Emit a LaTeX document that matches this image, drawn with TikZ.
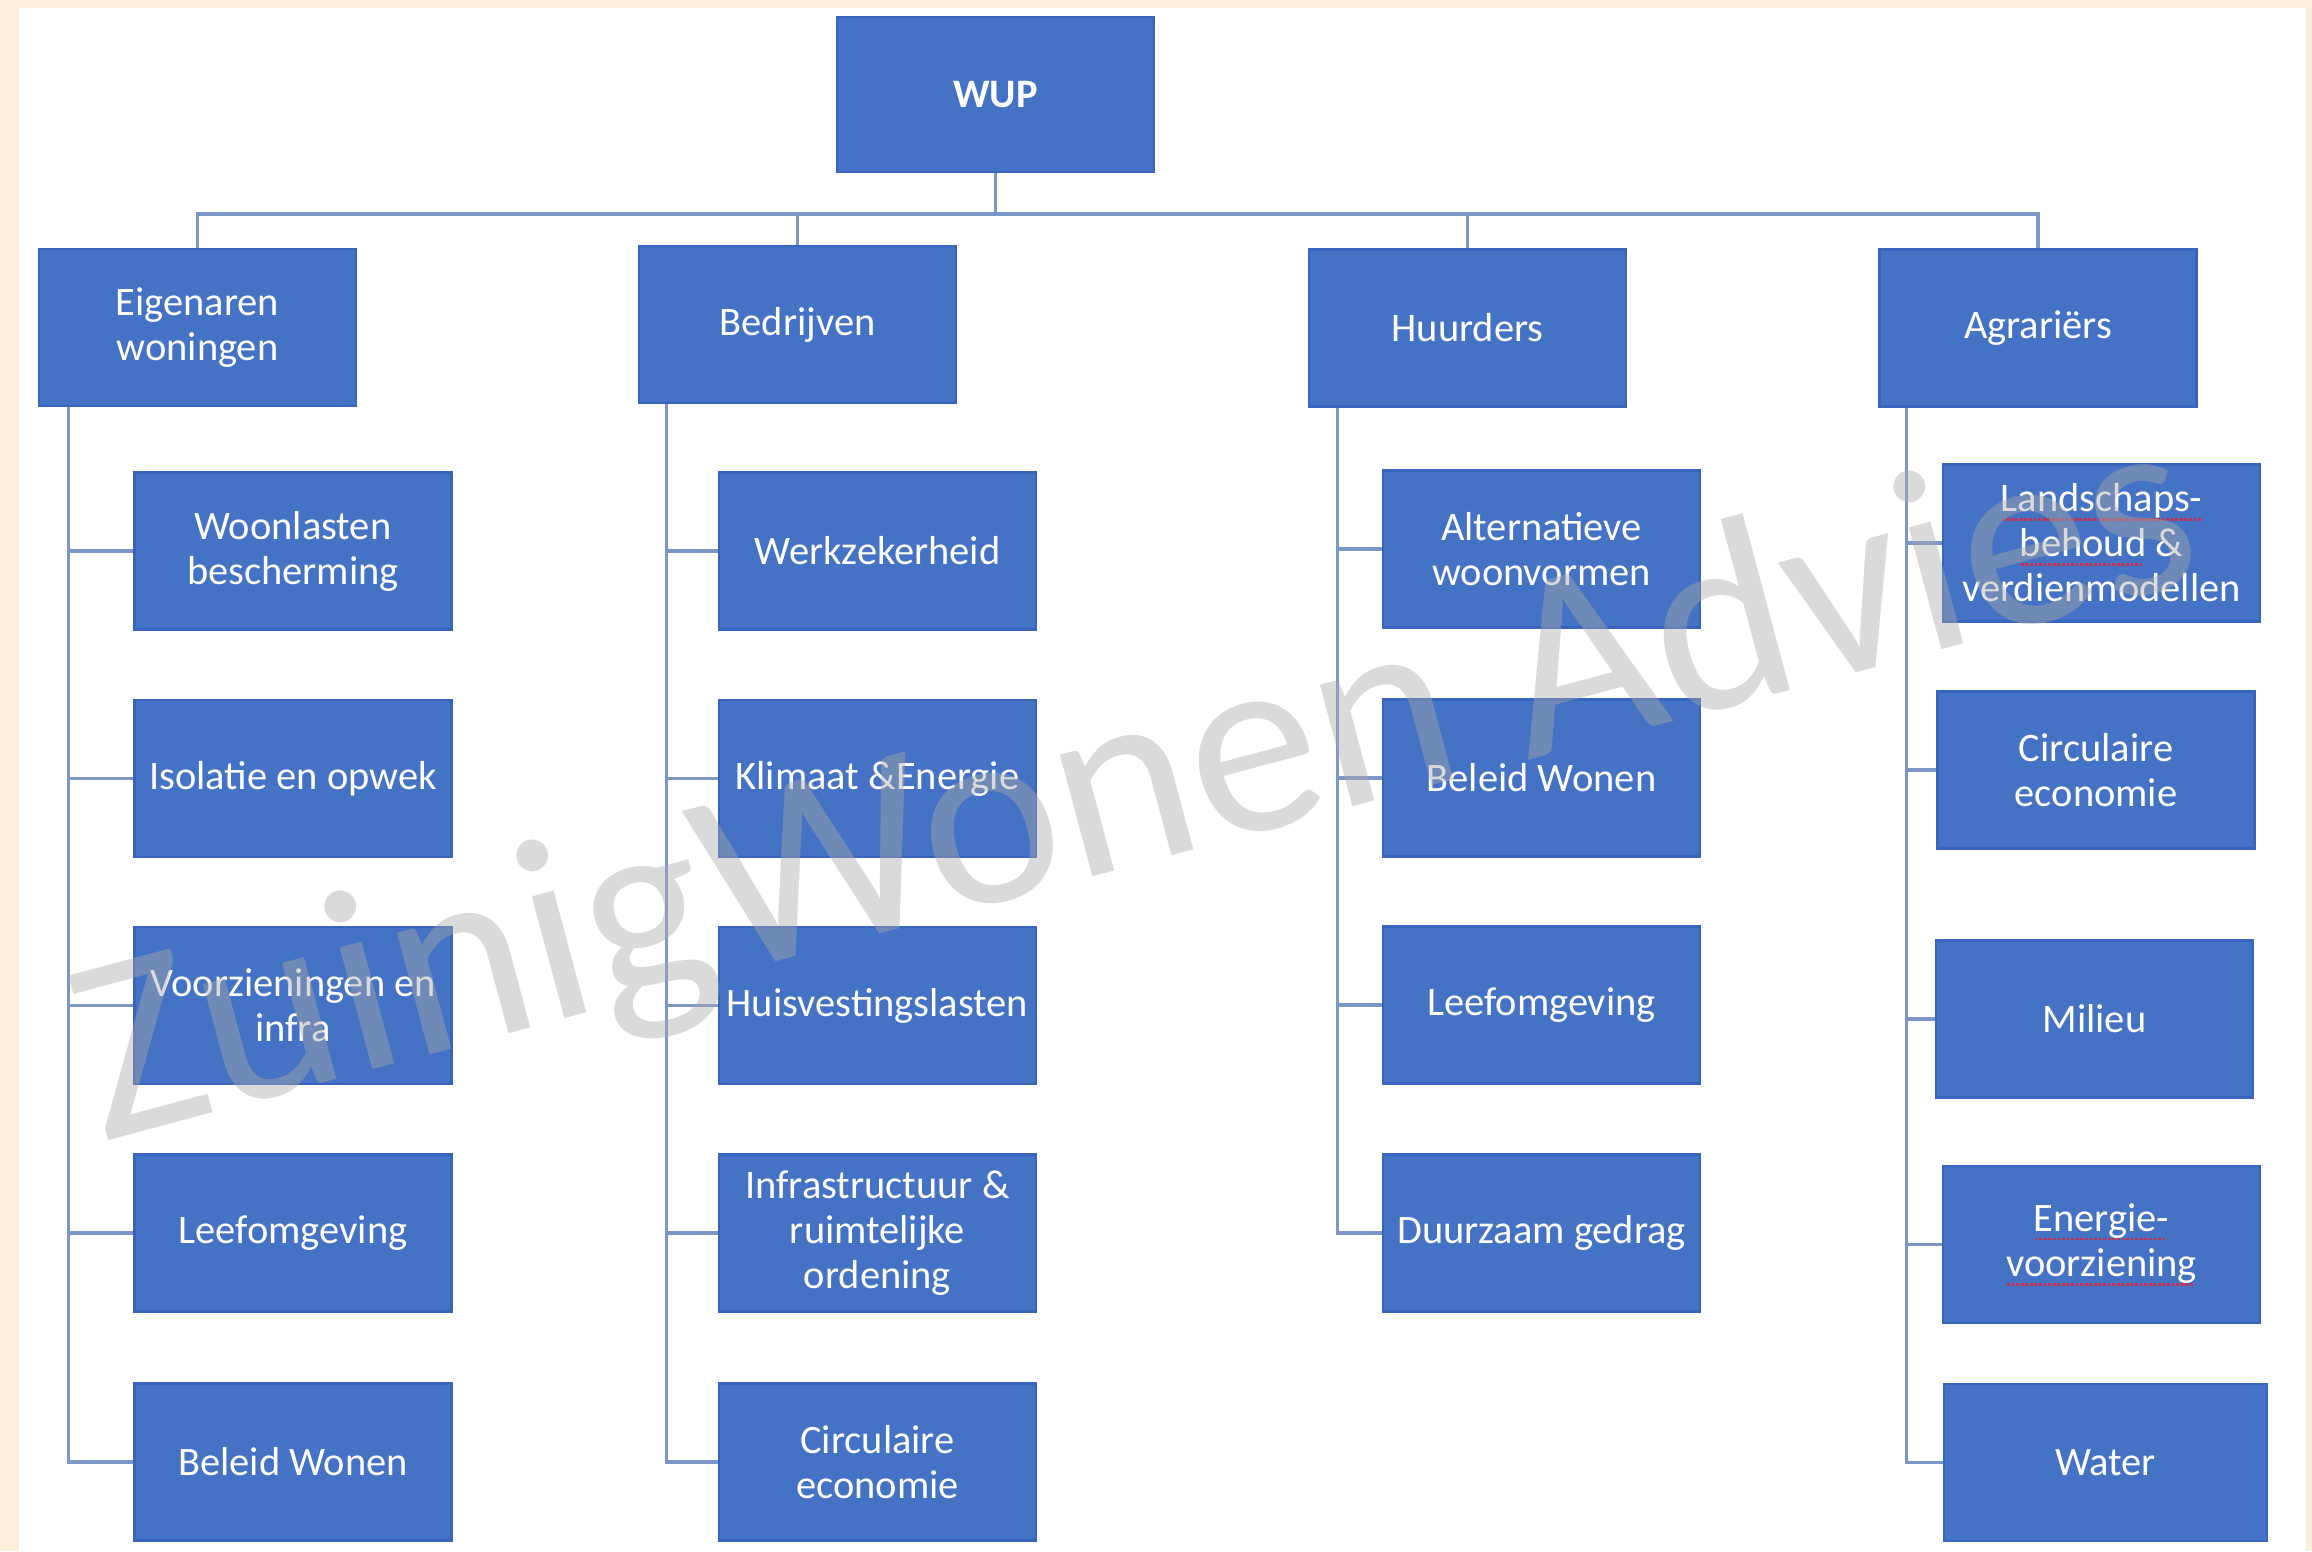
\documentclass[tikz,border=0pt]{standalone}
\usepackage{fontspec}
\setmainfont{Carlito}
\definecolor{boxblue}{RGB}{68,114,196}
\definecolor{boxedge}{RGB}{56,100,190}
\definecolor{linkblue}{RGB}{125,150,200}
\definecolor{peach}{RGB}{253,238,220}
\definecolor{markred}{RGB}{205,45,70}
\definecolor{markgray}{RGB}{170,170,170}
\newsavebox{\spellbox}
\newcommand{\spellmark}[1]{\sbox{\spellbox}{#1}%
  \rlap{\raisebox{-2.6pt}{\hbox to \wd\spellbox{\color{markred}%
    \leaders\hbox to 1.3pt{\hss\rule{0.8pt}{0.8pt}\hss}\hfil}}}\usebox{\spellbox}}

\begin{document}
\begin{tikzpicture}[x=0.01cm, y=-0.01cm, thick]
\tikzset{
  box/.style={
    draw=boxedge, line width=0.7pt, fill=boxblue, rectangle,
    minimum width=3.17cm, minimum height=1.57cm, inner sep=0pt,
    align=center, text=white, font=\fontsize{11.5}{12.8}\selectfont
  },
  link/.style={draw=linkblue, line width=1pt},
  watermark/.style={text=markgray, text opacity=0.43, inner sep=0pt,
    font=\fontsize{75}{80}\selectfont}
}
\useasboundingbox (0,0) rectangle (2312,1551);
\fill[peach] (0,0) rectangle (2312,1551);
\fill[white] (19,8) rectangle (2306,1551);

% top of the tree
\node[box, minimum height=1.55cm] (wup) at (995.5,94.5) {\textbf{WUP}};
\node[box] (eig) at (197.5,327.5) {Eigenaren\\woningen};
\node[box] (bed) at (797.5,324.5) {Bedrijven};
\node[box] (huu) at (1467.5,328)  {Huurders};
\node[box] (agr) at (2038,328)    {Agrariërs};

% eigenaren woningen
\node[box] (eig1) at (293,551)    {Woonlasten\\bescherming};
\node[box] (eig2) at (293,778.5)  {Isolatie en opwek};
\node[box] (eig3) at (293,1005.5) {Voorzieningen en\\infra};
\node[box] (eig4) at (293,1233)   {Leefomgeving};
\node[box] (eig5) at (293,1462)   {Beleid Wonen};

% bedrijven
\node[box] (bed1) at (877.5,551)    {Werkzekerheid};
\node[box] (bed2) at (877.5,778.5)  {Klimaat \&Energie};
\node[box] (bed3) at (877.5,1005.5) {Huisvestingslasten};
\node[box] (bed4) at (877.5,1233)   {Infrastructuur \&\\ruimtelijke\\ordening};
\node[box] (bed5) at (877.5,1462)   {Circulaire\\economie};

% huurders
\node[box] (huu1) at (1541.5,549)  {Alternatieve\\woonvormen};
\node[box] (huu2) at (1541.5,778)  {Beleid Wonen};
\node[box] (huu3) at (1541.5,1005) {Leefomgeving};
\node[box] (huu4) at (1541.5,1233) {Duurzaam gedrag};

% agrariers
\node[box] (agr1) at (2101.5,543)    {\spellmark{Landschaps-}\\\spellmark{behoud} \&\\verdienmodellen};
\node[box] (agr2) at (2096,770)      {Circulaire\\economie};
\node[box] (agr3) at (2094.5,1019)   {Milieu};
\node[box] (agr4) at (2101.5,1244.5) {\spellmark{Energie-}\\\spellmark{voorziening}};
\node[box, minimum width=3.23cm] (agr5) at (2105.5,1462.5) {Water};

\draw[link] (wup.south) -- ++(0,40.5) -| (eig.north);
\draw[link] (wup.south) -- ++(0,40.5) -| (bed.north);
\draw[link] (wup.south) -- ++(0,40.5) -| (huu.north);
\draw[link] (wup.south) -- ++(0,40.5) -| (agr.north);

\draw[link] ([xshift=0.31cm]eig.south west) |- (eig1.west);
\draw[link] ([xshift=0.31cm]eig.south west) |- (eig2.west);
\draw[link] ([xshift=0.31cm]eig.south west) |- (eig3.west);
\draw[link] ([xshift=0.31cm]eig.south west) |- (eig4.west);
\draw[link] ([xshift=0.31cm]eig.south west) |- (eig5.west);

\draw[link] ([xshift=0.29cm]bed.south west) |- (bed1.west);
\draw[link] ([xshift=0.29cm]bed.south west) |- (bed2.west);
\draw[link] ([xshift=0.29cm]bed.south west) |- (bed3.west);
\draw[link] ([xshift=0.29cm]bed.south west) |- (bed4.west);
\draw[link] ([xshift=0.29cm]bed.south west) |- (bed5.west);

\draw[link] ([xshift=0.30cm]huu.south west) |- (huu1.west);
\draw[link] ([xshift=0.30cm]huu.south west) |- (huu2.west);
\draw[link] ([xshift=0.30cm]huu.south west) |- (huu3.west);
\draw[link] ([xshift=0.30cm]huu.south west) |- (huu4.west);

\draw[link] ([xshift=0.285cm]agr.south west) |- (agr1.west);
\draw[link] ([xshift=0.285cm]agr.south west) |- (agr2.west);
\draw[link] ([xshift=0.285cm]agr.south west) |- (agr3.west);
\draw[link] ([xshift=0.285cm]agr.south west) |- (agr4.west);
\draw[link] ([xshift=0.285cm]agr.south west) |- (agr5.west);

% watermark over everything
\node[watermark, rotate=15, anchor=base west] (wm) at (100,1143) {ZuinigWonen Advies};
\end{tikzpicture}
\end{document}
